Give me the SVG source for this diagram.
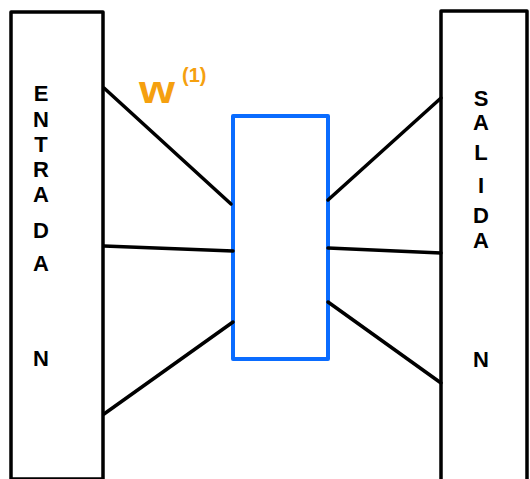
<svg xmlns="http://www.w3.org/2000/svg" width="530" height="479" viewBox="0 0 530 479">
  <style>
    .box { fill: none; stroke: #000; stroke-width: 3.5; stroke-linejoin: round; }
    .mid { fill: none; stroke: #0a6cff; stroke-width: 4; stroke-linejoin: round; }
    .edge { fill: none; stroke: #000; stroke-width: 3.5; stroke-linecap: round; stroke-linejoin: round; }
    .lbl { font-family: "Liberation Sans", Arial, sans-serif; font-weight: bold; font-size: 22px; fill: #000; text-anchor: middle; }
    .wt { font-family: "Liberation Sans", Arial, sans-serif; font-weight: bold; fill: #f5a00f; }
  </style>
  <rect width="530" height="479" fill="#fff"/>

  <!-- input layer -->
  <g id="entrada">
    <rect class="box" x="11" y="12" width="92" height="467"/>
    <text class="lbl" x="41" y="101">E</text>
    <text class="lbl" x="41" y="127">N</text>
    <text class="lbl" x="41" y="152">T</text>
    <text class="lbl" x="41" y="177">R</text>
    <text class="lbl" x="41" y="202">A</text>
    <text class="lbl" x="41" y="238">D</text>
    <text class="lbl" x="41" y="271">A</text>
    <text class="lbl" x="41" y="366">N</text>
  </g>

  <!-- hidden layer -->
  <g id="oculta">
    <rect class="mid" x="233" y="116" width="95" height="243"/>
  </g>

  <!-- output layer -->
  <g id="salida">
    <rect class="box" x="441" y="11" width="86" height="470"/>
    <text class="lbl" x="481" y="106">S</text>
    <text class="lbl" x="481" y="130">A</text>
    <text class="lbl" x="481" y="160">L</text>
    <text class="lbl" x="481" y="193">I</text>
    <text class="lbl" x="481" y="223">D</text>
    <text class="lbl" x="481" y="248">A</text>
    <text class="lbl" x="481" y="367">N</text>
  </g>

  <!-- weights label -->
  <g id="peso">
    <text class="wt" x="139" y="103" font-size="38" textLength="36" lengthAdjust="spacingAndGlyphs">w</text>
    <text class="wt" x="182" y="82" font-size="20">(1)</text>
  </g>

  <!-- connections -->
  <g id="conexiones">
    <line class="edge" x1="104" y1="88" x2="231" y2="204"/>
    <line class="edge" x1="104" y1="246" x2="233" y2="251"/>
    <line class="edge" x1="104" y1="414" x2="233" y2="322"/>
    <line class="edge" x1="328" y1="200" x2="441" y2="98"/>
    <line class="edge" x1="328" y1="248" x2="441" y2="253"/>
    <line class="edge" x1="328" y1="302" x2="441" y2="383"/>
  </g>
</svg>
